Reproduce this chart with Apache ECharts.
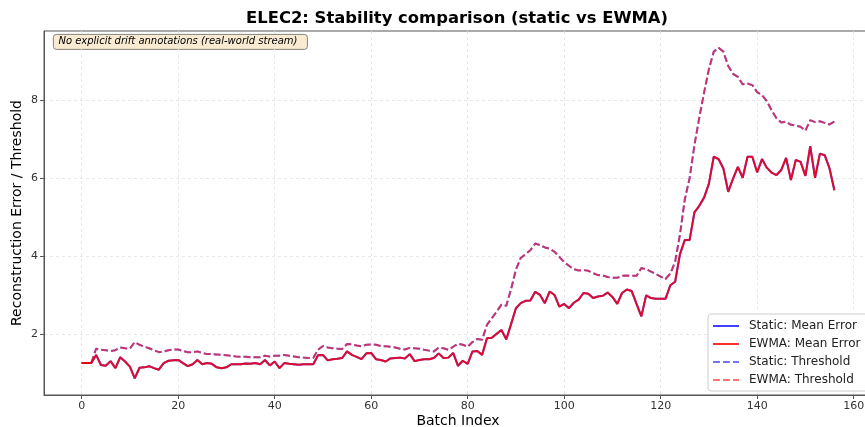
<!DOCTYPE html>
<html>
<head>
<meta charset="utf-8">
<script src="https://cdn.jsdelivr.net/npm/echarts@6/dist/echarts.min.js"></script>
<style>
html,body{margin:0;padding:0;background:#fff;overflow:hidden;}
#chart{width:880px;height:427px;}
</style>
</head>
<body>
<div id="chart"></div>
<script>
// ---- Data ----
const batchIndex = Array.from({length: 157}, (_, i) => i);

const staticMeanError = [
  1.25,1.25,1.25,1.46,1.20,1.18,1.30,1.12,1.40,1.29,
  1.16,0.86,1.13,1.14,1.17,1.12,1.08,1.25,1.31,1.32,
  1.33,1.25,1.17,1.22,1.33,1.22,1.25,1.23,1.14,1.12,
  1.14,1.22,1.22,1.22,1.24,1.23,1.25,1.22,1.33,1.19,
  1.29,1.12,1.25,1.23,1.22,1.21,1.22,1.22,1.22,1.45,
  1.46,1.32,1.35,1.36,1.38,1.55,1.46,1.41,1.35,1.50,
  1.51,1.35,1.33,1.29,1.37,1.38,1.39,1.37,1.48,1.30,
  1.33,1.35,1.35,1.38,1.50,1.38,1.39,1.51,1.18,1.31,
  1.23,1.55,1.56,1.46,1.89,1.90,2.00,2.10,1.86,2.25,
  2.66,2.79,2.85,2.86,3.08,3.00,2.79,3.09,3.00,2.70,
  2.77,2.66,2.80,2.88,3.05,3.03,2.92,2.96,2.98,3.06,
  2.95,2.77,3.05,3.14,3.10,2.77,2.45,2.99,2.92,2.90,
  2.90,2.90,3.25,3.34,4.05,4.41,4.41,5.12,5.29,5.50,
  5.86,6.55,6.49,6.25,5.65,5.99,6.29,6.01,6.55,6.55,
  6.15,6.49,6.27,6.14,6.08,6.21,6.52,5.95,6.47,6.42,
  6.06,6.82,6.01,6.63,6.59,6.25,5.69
];
const ewmaMeanError = staticMeanError.slice();

const staticThreshold = [
  1.25,1.25,1.25,1.62,1.59,1.58,1.56,1.58,1.65,1.63,
  1.62,1.79,1.72,1.67,1.63,1.58,1.53,1.55,1.58,1.60,
  1.60,1.56,1.53,1.53,1.55,1.51,1.48,1.48,1.47,1.46,
  1.45,1.44,1.42,1.41,1.41,1.40,1.40,1.40,1.44,1.42,
  1.44,1.44,1.46,1.44,1.42,1.40,1.39,1.38,1.38,1.59,
  1.69,1.65,1.63,1.62,1.61,1.74,1.73,1.70,1.68,1.72,
  1.73,1.72,1.69,1.68,1.67,1.65,1.62,1.60,1.64,1.63,
  1.62,1.59,1.57,1.55,1.65,1.63,1.59,1.67,1.75,1.72,
  1.67,1.79,1.87,1.85,2.23,2.40,2.57,2.75,2.72,3.15,
  3.65,3.95,4.05,4.15,4.32,4.28,4.22,4.19,4.11,3.98,
  3.84,3.75,3.66,3.63,3.64,3.62,3.56,3.51,3.50,3.46,
  3.44,3.44,3.49,3.50,3.49,3.49,3.69,3.66,3.60,3.54,
  3.47,3.41,3.55,3.85,4.55,5.45,6.00,6.85,7.55,8.20,
  8.80,9.25,9.35,9.25,8.88,8.68,8.60,8.41,8.43,8.39,
  8.21,8.13,7.98,7.74,7.54,7.43,7.45,7.37,7.35,7.32,
  7.22,7.49,7.44,7.46,7.42,7.38,7.45
];
const ewmaThreshold = staticThreshold.slice();

const xTickValues = [0, 20, 40, 60, 80, 100, 120, 140, 160];
const yTickValues = [2, 4, 6, 8];

const titleText = 'ELEC2: Stability comparison (static vs EWMA)';
const xAxisTitle = 'Batch Index';
const yAxisTitle = 'Reconstruction Error / Threshold';
const noteText = 'No explicit drift annotations (real-world stream)';
const seriesNames = ['Static: Mean Error', 'EWMA: Mean Error', 'Static: Threshold', 'EWMA: Threshold'];

// ---- Chart ----
const FONT = 'DejaVu Sans';
const chart = echarts.init(document.getElementById('chart'), null, {renderer: 'canvas'});

function pairs(ys) { return ys.map((y, i) => [batchIndex[i], y]); }

const gridLine = {show: true, lineStyle: {color: '#e2e2e2', type: [3, 3], width: 0.8}};

const option = {
  animation: false,
  backgroundColor: '#ffffff',
  title: {
    text: titleText,
    left: 452, textAlign: 'center', top: 6,
    textStyle: {fontFamily: FONT, fontSize: 16.4, fontWeight: 'bold', color: '#000'}
  },
  grid: {left: 44, top: 31, width: 828, height: 364, outerBoundsMode: 'none', containLabel: false,
         show: true, borderColor: '#555', borderWidth: 1, backgroundColor: 'transparent'},
  xAxis: {
    type: 'value', min: -7.8, max: 163.8,
    name: xAxisTitle, nameLocation: 'middle', nameGap: 19, nameMoveOverlap: false,
    nameTextStyle: {fontFamily: FONT, fontSize: 14, color: '#000'},
    axisLine: {show: true, onZero: false, lineStyle: {color: '#555', width: 1}},
    axisTick: {show: true, customValues: xTickValues, length: 4, lineStyle: {color: '#555'}},
    axisLabel: {customValues: xTickValues, fontFamily: FONT, fontSize: 11, color: '#333', margin: 6},
    splitLine: gridLine
  },
  yAxis: {
    type: 'value', min: 0.43, max: 9.78,
    name: yAxisTitle, nameLocation: 'middle', nameGap: 20, nameMoveOverlap: false,
    nameTextStyle: {fontFamily: FONT, fontSize: 14, color: '#000'},
    axisLine: {show: true, onZero: false, lineStyle: {color: '#555', width: 1}},
    axisTick: {show: true, customValues: yTickValues, length: 4, lineStyle: {color: '#555'}},
    axisLabel: {customValues: yTickValues, fontFamily: FONT, fontSize: 11, color: '#333', margin: 6},
    splitLine: gridLine
  },
  legend: {
    orient: 'vertical', left: 708, top: 314,
    padding: [6, 14, 5, 4], itemGap: 6, itemWidth: 26, itemHeight: 12,
    backgroundColor: 'rgba(255,255,255,0.85)', borderColor: '#cccccc', borderWidth: 1, borderRadius: 3,
    itemStyle: {opacity: 0},
    textStyle: {fontFamily: FONT, fontSize: 12, color: '#222', padding: [0, 0, 0, 5]},
    data: seriesNames
  },
  graphic: [{
    type: 'group', left: 53, top: 34,
    children: [
      {type: 'rect', shape: {x: 0, y: 0, width: 254, height: 15, r: 3},
       style: {fill: 'rgba(245,222,179,0.6)', stroke: '#666', lineWidth: 0.8}},
      {type: 'text', x: 5, y: 7.5,
       style: {text: noteText, font: 'italic 10px "DejaVu Sans"', fill: '#000', verticalAlign: 'middle'}}
    ]
  }],
  series: [
    {name: seriesNames[0], type: 'line', data: pairs(staticMeanError), showSymbol: false, symbol: 'none',
     color: 'rgba(0,0,255,0.75)', lineStyle: {width: 2, color: 'rgba(0,0,255,0.75)'}, z: 2},
    {name: seriesNames[1], type: 'line', data: pairs(ewmaMeanError), showSymbol: false, symbol: 'none',
     color: 'rgba(255,0,0,0.82)', lineStyle: {width: 2, color: 'rgba(255,0,0,0.82)'}, z: 3},
    {name: seriesNames[2], type: 'line', data: pairs(staticThreshold), showSymbol: false, symbol: 'none',
     color: 'rgba(0,0,255,0.55)', lineStyle: {width: 2, type: [7, 3], color: 'rgba(0,0,255,0.55)'}, z: 2},
    {name: seriesNames[3], type: 'line', data: pairs(ewmaThreshold), showSymbol: false, symbol: 'none',
     color: 'rgba(255,0,0,0.55)', lineStyle: {width: 2, type: [7, 3], color: 'rgba(255,0,0,0.55)'}, z: 3}
  ]
};
chart.setOption(option);
</script>
</body>
</html>
